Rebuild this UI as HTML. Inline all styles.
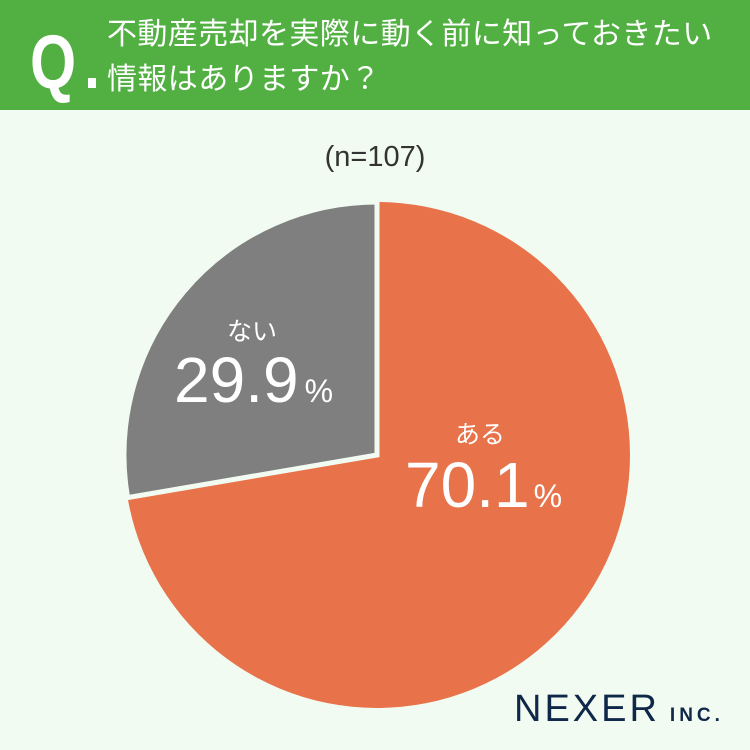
<!DOCTYPE html>
<html><head><meta charset="utf-8"><style>
body{margin:0;width:750px;height:750px;background:#f2fbf1;font-family:"Liberation Sans","Noto Sans CJK JP",sans-serif;overflow:hidden;position:relative}
.hd{position:absolute;left:0;top:0;width:750px;height:110px;background:#52b043}
.q{position:absolute;left:30px;top:25px;color:#fff;font-size:76px;font-weight:bold;line-height:1;transform:scaleX(0.78);transform-origin:left}
.dot{position:absolute;left:88px;top:78px;width:8px;height:10px;background:#fff}
.t{position:absolute;left:107px;color:#fff;font-size:30px;line-height:1;white-space:nowrap;letter-spacing:0.4px}
.n{position:absolute;left:0;width:750px;top:141px;text-align:center;font-size:29px;color:#333}
.lab{position:absolute;color:#fff;text-align:center}
</style></head><body>
<div class="hd"></div>
<div class="q">Q</div><div class="dot"></div>
<div class="t" style="top:20px">不動産売却を実際に動く前に知っておきたい</div>
<div class="t" style="top:65px">情報はありますか？</div>
<div class="n">(n=107)</div>
<svg width="750" height="750" style="position:absolute;left:0;top:0">
<circle cx="377" cy="455" r="253" fill="#e8734a"/>
<path d="M377,455 L377,202 A253,253 0 0 0 127.6,497.6 Z" fill="#7f7f7f" stroke="#f2fbf1" stroke-width="5" stroke-linejoin="miter"/>
</svg>
<div class="lab" style="left:212px;top:312px;width:80px;font-size:25px">ない</div>
<div class="lab" style="left:174px;top:343px;font-size:64px;white-space:nowrap">29.9<span style="font-size:32px;margin-left:6px">%</span></div>
<div class="lab" style="left:440px;top:415px;width:80px;font-size:25px">ある</div>
<div class="lab" style="left:405px;top:448px;font-size:64px;white-space:nowrap">70.1<span style="font-size:32px;margin-left:4px">%</span></div>
<div style="position:absolute;left:514px;top:690px;color:#0f2748;font-size:38px;letter-spacing:3px;line-height:1">NEXER<span style="font-size:19px;font-weight:bold;letter-spacing:4px;margin-left:10px">INC.</span></div>
</body></html>
